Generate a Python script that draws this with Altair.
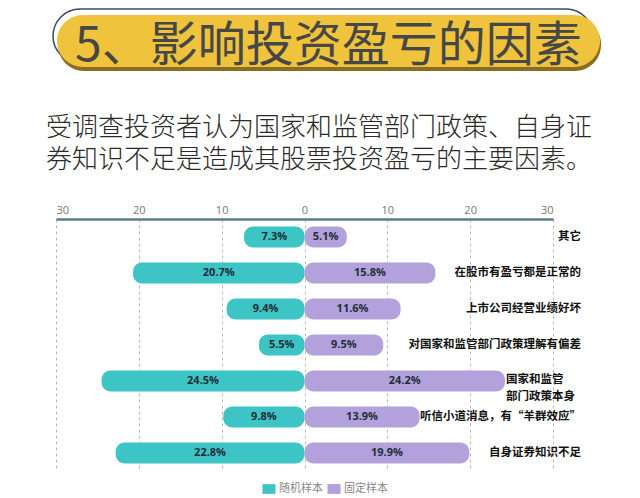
import altair as alt
import pandas as pd

# ---------------- data ----------------
categories = [
    "其它",
    "在股市有盈亏都是正常的",
    "上市公司经营业绩好坏",
    "对国家和监管部门政策理解有偏差",
    "国家和监管部门政策本身",
    "听信小道消息，有“羊群效应”",
    "自身证券知识不足",
]
category_display = [
    "其它",
    "在股市有盈亏都是正常的",
    "上市公司经营业绩好坏",
    "对国家和监管部门政策理解有偏差",
    "国家和监管\n部门政策本身",
    "听信小道消息，有“羊群效应”",
    "自身证券知识不足",
]
random_sample = [7.3, 20.7, 9.4, 5.5, 24.5, 9.8, 22.8]
fixed_sample = [5.1, 15.8, 11.6, 9.5, 24.2, 13.9, 19.9]
series_names = ["随机样本", "固定样本"]
axis_ticks = [-30, -20, -10, 0, 10, 20, 30]
title_text = "5、影响投资盈亏的因素"
subtitle_lines = [
    "受调查投资者认为国家和监管部门政策、自身证",
    "券知识不足是造成其股票投资盈亏的主要因素。",
]

TEAL = "#3DC5C5"
PURPLE = "#B2A1DA"
W, H = 497, 252
OX, OY = 56, 219  # plot origin in page pixels

rows = []
for c, r, f in zip(categories, random_sample, fixed_sample):
    rows.append({"category": c, "series": series_names[0], "start": -r, "end": 0.0,
                 "mid": -r / 2, "label": f"{r}%"})
    rows.append({"category": c, "series": series_names[1], "start": 0.0, "end": f,
                 "mid": f / 2, "label": f"{f}%"})
df = pd.DataFrame(rows)
cat_df = pd.DataFrame({"category": categories, "display": category_display})
cat_df["multi"] = cat_df["display"].str.contains("\n")

y_enc = alt.Y("category:N", sort=categories, axis=None,
              scale=alt.Scale(paddingInner=0, paddingOuter=0))
x_scale = alt.Scale(domain=[-30, 30], nice=False, zero=False)

bars = alt.Chart(df).mark_bar(size=21, cornerRadius=9).encode(
    x=alt.X("start:Q", scale=x_scale,
            axis=alt.Axis(orient="top", values=axis_ticks, labelExpr="abs(datum.value)",
                          title=None, grid=True, gridDash=[3, 3], gridColor="#b8b8b8",
                          gridWidth=1, domainColor="#5b7d84", domainWidth=2.5, tickSize=0,
                          labelFontSize=11, labelColor="#777777", labelPadding=4,
                          labelFont="Open Sans")),
    x2="end:Q",
    y=y_enc,
    color=alt.Color("series:N",
                    scale=alt.Scale(domain=series_names, range=[TEAL, PURPLE]),
                    legend=alt.Legend(orient="none", legendX=206, legendY=263,
                                      direction="horizontal", title=None,
                                      symbolType="M-1,-0.75H1V0.75H-1Z", symbolSize=170,
                                      symbolStrokeWidth=0, labelFontSize=11,
                                      labelColor="#888888", labelFont="Noto Sans CJK SC",
                                      labelOffset=3, columnPadding=4)),
)

value_labels = alt.Chart(df).mark_text(fontSize=11, fontWeight="bold", color="#1f2d3a",
                                       font="Open Sans").encode(
    x=alt.X("mid:Q", scale=x_scale), y=y_enc, text="label:N")

cat_labels = alt.Chart(cat_df).transform_filter("!datum.multi").mark_text(
    align="right", fontSize=11.5, fontWeight="bold", color="#111111",
    font="Noto Sans CJK SC").encode(x=alt.value(525), y=y_enc, text="display:N")

cat_labels2 = alt.Chart(cat_df).transform_filter("datum.multi").mark_text(
    align="left", fontSize=11.5, fontWeight="bold", color="#111111", lineBreak="\n",
    lineHeight=17, dy=-1, font="Noto Sans CJK SC").encode(
    x=alt.value(450), y=y_enc, text="display:N")

# ---------------- header decoration ----------------
one = pd.DataFrame({"k": [0]})
outline = alt.Chart(one).mark_rect(fillOpacity=0, stroke="#3b4a63", strokeWidth=1.5,
                                   cornerRadius=27).encode(
    x=alt.value(53 - OX), x2=alt.value(593 - OX), y=alt.value(9 - OY), y2=alt.value(63 - OY))
shadow = alt.Chart(one).mark_rect(fill="#8c6c22", cornerRadius=26).encode(
    x=alt.value(58 - OX), x2=alt.value(601 - OX), y=alt.value(18 - OY), y2=alt.value(71 - OY))
banner = alt.Chart(one).mark_rect(fill="#F0C33C", cornerRadius=26).encode(
    x=alt.value(57 - OX), x2=alt.value(600 - OX), y=alt.value(15 - OY), y2=alt.value(67 - OY))

title_df = pd.DataFrame({"t": [title_text]})
title = alt.Chart(title_df).mark_text(align="left", baseline="alphabetic", fontSize=48,
                                      color="#474747", font="Noto Sans CJK SC").encode(
    x=alt.value(75 - OX), y=alt.value(61 - OY), text="t:N")

sub_df = pd.DataFrame({"t": subtitle_lines, "i": [0, 1]})
sub1 = alt.Chart(sub_df).transform_filter("datum.i == 0").mark_text(
    align="left", baseline="alphabetic", fontSize=26, fontWeight=300, color="#2a2a2a",
    font="Noto Sans CJK SC").encode(x=alt.value(46 - OX), y=alt.value(136 - OY), text="t:N")
sub2 = alt.Chart(sub_df).transform_filter("datum.i == 1").mark_text(
    align="left", baseline="alphabetic", fontSize=26, fontWeight=300, color="#2a2a2a",
    font="Noto Sans CJK SC").encode(x=alt.value(46 - OX), y=alt.value(168 - OY), text="t:N")

chart = alt.layer(
    outline, shadow, banner, title, sub1, sub2, bars, value_labels, cat_labels, cat_labels2
).properties(
    width=W, height=H,
    autosize=alt.AutoSizeParams(type="none"),
    padding={"left": OX, "top": OY, "right": 640 - OX - W, "bottom": 498 - OY - H},
    background="white",
).configure_view(stroke=None)

chart.save("out.html", embed_options={"renderer": "svg", "actions": False})
